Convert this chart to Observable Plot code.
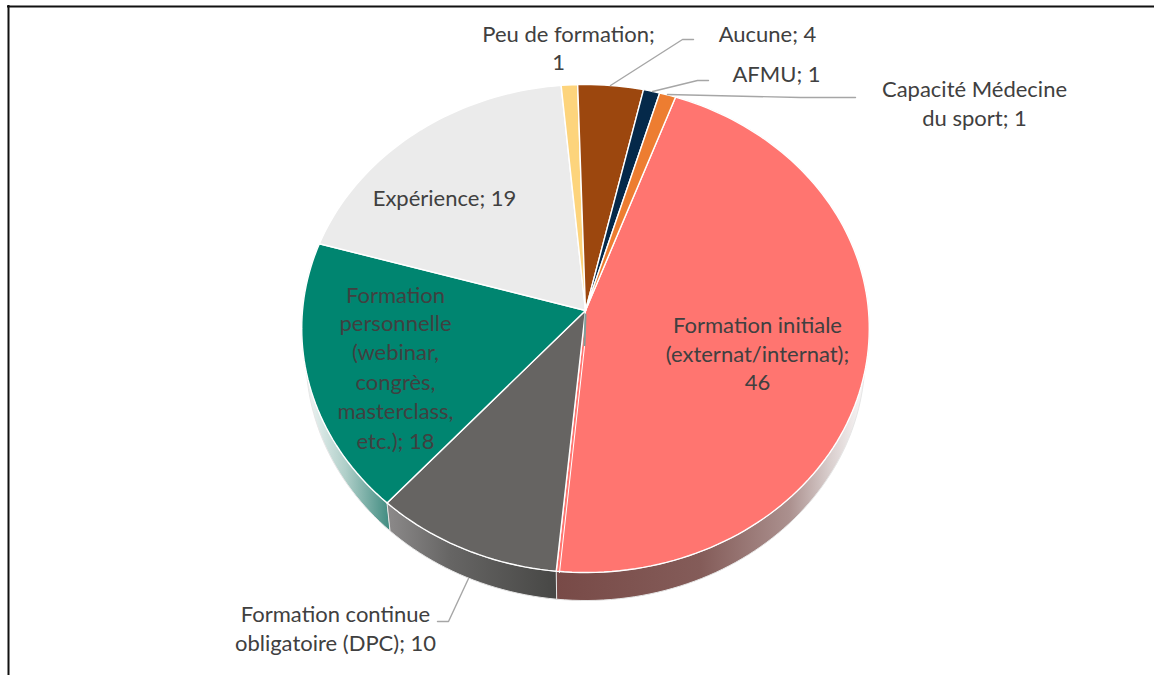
<!DOCTYPE html>
<html><head><meta charset="utf-8">
<script src="https://cdn.jsdelivr.net/npm/d3@7"></script>
<script src="https://cdn.jsdelivr.net/npm/@observablehq/plot@0.6"></script>
<style>html,body{margin:0;padding:0;background:#fff}svg{display:block}</style>
</head><body><div id="chart"></div>
<script>
const categories = ["Formation initiale (externat/internat)", "Formation continue obligatoire (DPC)", "Formation personnelle (webinar, congrès, masterclass, etc.)", "Expérience", "Peu de formation", "Aucune", "AFMU", "Capacité Médecine du sport"];
const values = [46, 10, 18, 19, 1, 4, 1, 1];
const sliceColors = ["#FF7570", "#666462", "#008570", "#EBEBEB", "#FDD47C", "#9C470E", "#05294A", "#ED7D31"];
const labelText = ["Peu de formation;", "1", "Aucune; 4", "AFMU; 1", "Capacité Médecine", "du sport; 1", "Expérience; 19", "Formation initiale", "(externat/internat);", "46", "Formation", "personnelle", "(webinar,", "congrès,", "masterclass,", "etc.); 18", "Formation continue", "obligatoire (DPC); 10"];
const labelX = [568, 558, 767, 776, 974, 974, 444, 757, 757, 757, 395, 395, 395, 395, 395, 395, 335, 335];
const labelY = [34, 62, 34, 74, 89, 118, 198, 325, 354, 382, 295, 323, 352, 382, 411, 441, 614, 643];
const leaders = [
  [[610,85],[682,39],[693,39]],
  [[652,91],[697,80],[708,80]],
  [[667,94],[800,97],[855,97]],
  [[468,578],[448,621],[437,621]]
];
const seamLines = [
  {pts: [[585,314],[584,345]], color: "#7f9f9a", w: 2},
  {pts: [[584,346],[559,572]], color: "#ffffff", w: 1}
];

// Perspective of the tilted pie
const cx = 585, cy = 310, R = 283, Rp = 242.7, k = 0.0737, startAngle = 19.9, depth = 28, shrink = 0.985;
function rim(a) {
  const t = a * Math.PI / 180, X = Math.sin(t), Y = Math.cos(t), w = 1 + k * Y;
  return [cx + R * X / w, cy - Rp * Y / w];
}
const total = d3.sum(values);
let acc = startAngle;
const wedges = values.map((v, i) => { const a0 = acc; acc += v / total * 360; return {cat: categories[i], a0, a1: acc}; });
function arcPts(a0, a1) {
  const n = Math.max(2, Math.ceil((a1 - a0) / 1.5)), p = [];
  for (let i = 0; i <= n; i++) p.push(rim(a0 + (a1 - a0) * i / n));
  return p;
}
const faces = wedges.flatMap(w => [[cx, cy], ...arcPts(w.a0, w.a1)].map(([x, y]) => ({cat: w.cat, x, y})));
function wall(i) {
  const w = wedges[i];
  const top = arcPts(w.a0, w.a1);
  const bot = top.map(([x, y]) => [cx + (x - cx) * shrink, y + depth]).reverse();
  return [...top, ...bot].map(([x, y]) => ({x, y}));
}
const gradients = [
  ["gInit", 557, 862, [[0, "#784a47"], [.47, "#845c59"], [.76, "#ab908e"], [.89, "#d8cdcc"], [1, "#f8f6f6"]]],
  ["gDpc", 390, 556, [[0, "#8a8888"], [.36, "#666564"], [1, "#474745"]]],
  ["gPers", 303, 390, [[0, "#f5f8f8"], [.48, "#b0cfc9"], [1, "#3e8a7f"]]]
];
const defsMark = () => {
  const defs = d3.create("svg:defs");
  for (const [id, x1, x2, stops] of gradients) {
    const g = defs.append("linearGradient").attr("id", id).attr("gradientUnits", "userSpaceOnUse")
      .attr("x1", x1).attr("x2", x2).attr("y1", 0).attr("y2", 0);
    for (const [o, c] of stops) g.append("stop").attr("offset", o).attr("stop-color", c);
  }
  return defs.node();
};
const wallOpts = f => ({x: "x", y: "y", fill: `url(#${f})`, stroke: "#e6e6e6", strokeWidth: 1, curve: "linear-closed"});
const labels = labelText.map((t, i) => ({t, x: labelX[i], y: labelY[i]}));

const plot = Plot.plot({
  width: 1154, height: 675, margin: 0,
  x: {domain: [0, 1154], range: [0, 1154], axis: null},
  y: {domain: [0, 675], range: [0, 675], axis: null},
  color: {domain: categories, range: sliceColors, type: "ordinal"},
  style: {background: "#fff"},
  marks: [
    defsMark,
    Plot.ruleY([6], {x1: 7, x2: 1154, stroke: "#111", strokeWidth: 2}),
    Plot.ruleX([8], {y1: 5, y2: 675, stroke: "#111", strokeWidth: 2}),
    Plot.line(wall(2), wallOpts("gPers")),
    Plot.line(wall(1), wallOpts("gDpc")),
    Plot.line(wall(0), wallOpts("gInit")),
    Plot.line(faces, {x: "x", y: "y", z: "cat", fill: "cat", stroke: "#fff", strokeWidth: 1.4, strokeLinejoin: "round", curve: "linear-closed"}),
    ...seamLines.map(s => Plot.line(s.pts, {x: d => d[0], y: d => d[1], stroke: s.color, strokeWidth: s.w})),
    ...leaders.map(l => Plot.line(l, {x: d => d[0], y: d => d[1], stroke: "#a6a6a6", strokeWidth: 1.4})),
    Plot.text(labels, {x: "x", y: "y", text: "t", fill: "#404040", fontSize: 22, fontFamily: "Lato", textAnchor: "middle"})
  ]
});
document.getElementById("chart").append(plot);
</script></body></html>
